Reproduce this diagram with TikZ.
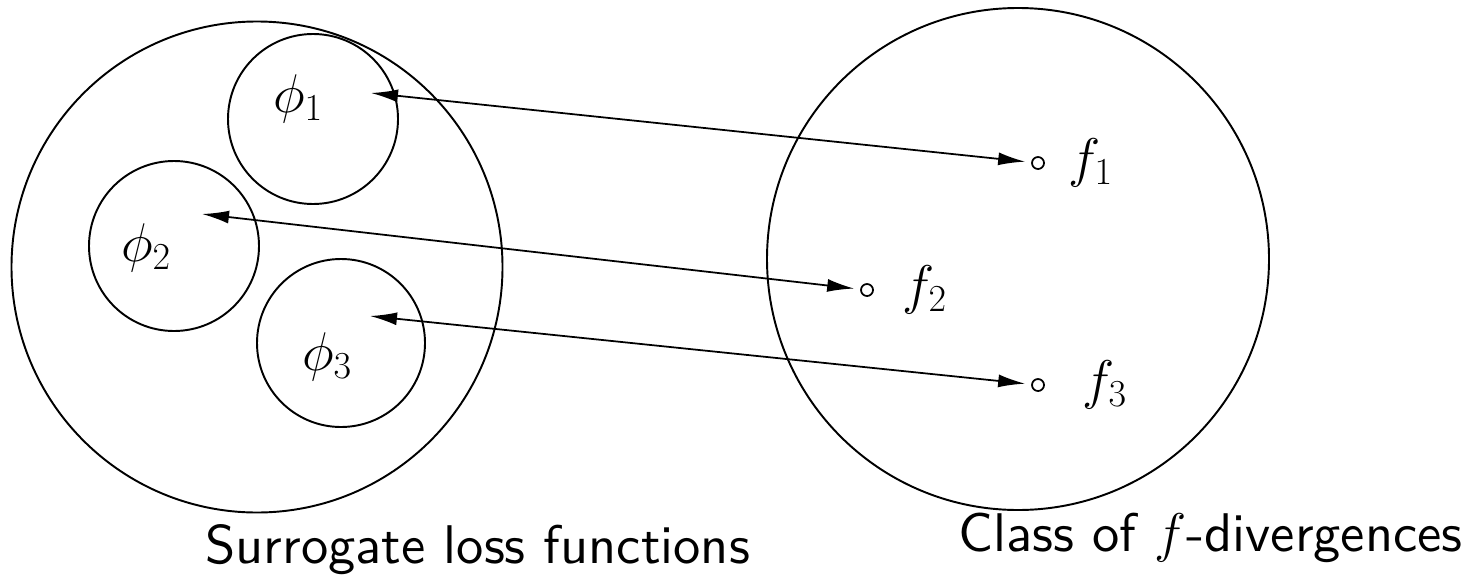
\documentclass[tikz,border=0pt]{standalone}
\usepackage{fix-cm}
\usepackage{amsmath}
\usetikzlibrary{
  arrows.meta,
  positioning
}
\font\capfont="[lmsans10-regular]:mapping=tex-text" at 31pt
\tikzset{
  setcircle/.style={
    circle,
    draw,
    line width=1.1pt,
    inner sep=0pt
  },
  subset/.style={setcircle, minimum size=3.4cm},
  fdot/.style={circle, draw, line width=1pt, minimum size=2.4mm, inner sep=0pt},
  mathlabel/.style={font=\fontsize{31}{37}\selectfont, inner sep=0pt},
  caption/.style={font={\fontsize{31}{37}\selectfont\capfont}, inner sep=0pt, anchor=base west},
  arrow/.style={{Latex[length=5.4mm,width=2.6mm]}-{Latex[length=5.4mm,width=2.6mm]},line width=1pt,shorten >=1.2mm}
}

\begin{document}
\begin{tikzpicture}
  \useasboundingbox (0,0) rectangle (29.48,11.62);

  % Surrogate losses on the left, f-divergences on the right
  \node[setcircle, minimum size=9.82cm] (loss) at (5.14,6.28) {};
  \node[setcircle, minimum size=10.04cm] (fdiv) at (20.36,6.44) {};

  \node[subset] (c1) at (6.26,9.24) {};
  \node[subset] (c2) at (3.48,6.70) {};
  \node[subset, minimum size=3.36cm] (c3) at (6.82,4.76) {};

  \node[mathlabel] (phi1) at (5.96,9.64) {$\phi_1$};
  \node[mathlabel] (phi2) at (2.92,6.66) {$\phi_2$};
  \node[mathlabel] (phi3) at (6.54,4.48) {$\phi_3$};

  \node[fdot] (d1) at (20.76,8.36) {};
  \node[fdot] (d2) at (17.34,5.82) {};
  \node[fdot] (d3) at (20.76,3.92) {};

  \node[mathlabel, right=4.6mm of d1] (f1) {$f_1$};
  \node[mathlabel, right=5.6mm of d2] (f2) {$f_2$};
  \node[mathlabel, right=7.4mm of d3] (f3) {$f_3$};

  \coordinate (a1) at (7.42,9.76);
  \coordinate (a2) at (4.04,7.34);
  \coordinate (a3) at (7.40,5.30);

  \draw[arrow] (a1) -- (d1);
  \draw[arrow] (a2) -- (d2);
  \draw[arrow] (a3) -- (d3);

  \node[caption] (losscap) at (4.10,0.36) {Surrogate loss functions};
  \node[caption] (fdivcap) at (19.16,0.60) {Class of $f$-divergences};
\end{tikzpicture}
\end{document}
